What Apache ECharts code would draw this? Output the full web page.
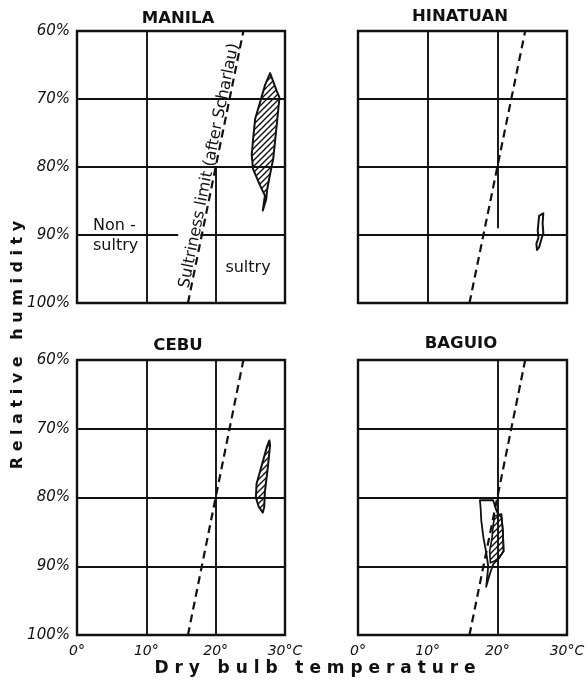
<!DOCTYPE html>
<html><head><meta charset="utf-8">
<script src="https://cdn.jsdelivr.net/npm/echarts@6/dist/echarts.min.js"></script>
<style>html,body{margin:0;padding:0;background:#fff}#c{width:588px;height:688px}</style>
</head><body><div id="c"></div>
<script>
// ---------- data ----------
const stations = ['MANILA', 'HINATUAN', 'CEBU', 'BAGUIO'];
const xTickLabels = ['0°', '10°', '20°', '30°C'];
const yTickLabels = ['60%', '70%', '80%', '90%', '100%'];
// sultriness limit (after Scharlau)
const limitT = [16, 24];
const limitRH = [100, 60];
// monthly climographs (dry bulb °C, relative humidity %)
const manilaT = [27.85, 28.8, 29.2, 28.8, 28.3, 27.8, 27.4, 27.3, 26.8, 27.1, 26.4, 25.4, 25.2, 25.4, 25.7, 26.4, 27.1];
const manilaRH = [66.2, 68.8, 69.8, 73.9, 78.8, 81.3, 83.5, 84.7, 86.4, 84.2, 82.7, 80.3, 78.3, 75.9, 72.9, 70.5, 68.0];
const hinatuanT = [26.0, 26.6, 26.5, 26.6, 26.3, 26.0, 25.7, 25.6, 25.9, 25.8, 25.9];
const hinatuanRH = [87.2, 86.8, 88.3, 89.7, 90.7, 91.8, 92.2, 91.3, 90.4, 89.3, 88.2];
const cebuT = [27.75, 27.85, 27.5, 27.1, 27.0, 26.8, 26.2, 25.8, 25.9, 26.65, 27.4];
const cebuRH = [71.7, 72.4, 75.8, 79.2, 81.4, 82.2, 81.3, 80.0, 78.0, 75.3, 72.6];
const baguioT = [17.5, 19.4, 19.8, 20.0, 20.6, 20.8, 20.9, 20.1, 19.4, 18.9, 18.4, 18.7, 18.4, 18.0, 17.7, 17.6];
const baguioRH = [80.4, 80.4, 81.7, 82.2, 82.9, 84.9, 87.8, 89.0, 89.7, 91.2, 93.0, 90.0, 88.0, 85.8, 83.4, 81.5];
const baguioHatchT = [19.6, 20.6, 20.8, 20.9, 20.1, 19.0, 18.9, 19.25, 19.4];
const baguioHatchRH = [82.7, 82.4, 84.9, 87.8, 89.0, 89.5, 87.8, 85.8, 84.1];

// ---------- layout / style ----------
const INK = '#111';
const grids = [
  {left: 77, top: 31, width: 208, height: 272},
  {left: 358, top: 31, width: 209, height: 272},
  {left: 77, top: 360, width: 208, height: 275},
  {left: 358, top: 360, width: 209, height: 275}
];
// grid line segments per panel [x1,y1,x2,y2] (as printed, some interrupted)
const gridSegs = [
  [[10,60,10,100],[20,80,20,100],[0,70,30,70],[0,80,30,80],[0,90,14.6,90],[17.8,90,30,90]],
  [[10,60,10,100],[20,60,20,89],[0,70,30,70],[0,80,30,80],[0,90,30,90]],
  [[10,60,10,100],[20,60,20,100],[0,70,30,70],[0,80,30,80],[0,90,30,90]],
  [[20,60,20,100],[0,70,30,70],[0,80,30,80],[0,90,30,90]]
];
const polys = [
  [{T: manilaT, RH: manilaRH, hatch: true, lw: 2}],
  [{T: hinatuanT, RH: hinatuanRH, hatch: false, lw: 2}],
  [{T: cebuT, RH: cebuRH, hatch: true, lw: 2}],
  [{T: baguioT, RH: baguioRH, hatch: false, lw: 1.8}, {T: baguioHatchT, RH: baguioHatchRH, hatch: true, lw: 1.6}]
];

const hatchCanvas = (() => {
  const c = document.createElement('canvas'); c.width = 6; c.height = 6;
  const g = c.getContext('2d'); g.strokeStyle = INK; g.lineWidth = 1.4;
  g.beginPath(); g.moveTo(0, 6); g.lineTo(6, 0); g.moveTo(-3, 3); g.lineTo(3, -3); g.moveTo(3, 9); g.lineTo(9, 3); g.stroke();
  return c;
})();
const hatchFill = {image: hatchCanvas, repeat: 'repeat'};

const xAxes = [], yAxes = [], series = [];
grids.forEach((g, i) => {
  xAxes.push({
    gridIndex: i, type: 'value', min: 0, max: 30, interval: 10,
    axisLine: {show: false}, axisTick: {show: false}, splitLine: {show: false},
    axisLabel: {show: i >= 2, formatter: v => xTickLabels[Math.round(v / 10)], fontFamily: 'DejaVu Sans',
      fontStyle: 'italic', fontSize: 14, color: INK, margin: 9}
  });
  yAxes.push({
    gridIndex: i, type: 'value', min: 60, max: 100, interval: 10, inverse: true,
    axisLine: {show: false}, axisTick: {show: false}, splitLine: {show: false},
    axisLabel: {show: i % 2 === 0, formatter: v => yTickLabels[Math.round((v - 60) / 10)], fontFamily: 'DejaVu Sans',
      fontStyle: 'italic', fontSize: 15, color: INK, margin: 7}
  });
  series.push({
    type: 'line', xAxisIndex: i, yAxisIndex: i, z: 3, silent: true,
    data: limitT.map((t, k) => [t, limitRH[k]]), symbol: 'none',
    lineStyle: {color: INK, width: 2.2, type: [8, 5]},
    markLine: {
      silent: true, symbol: ['none', 'none'], label: {show: false},
      lineStyle: {color: INK, width: 1.9, type: 'solid'},
      data: gridSegs[i].map(s => [{coord: [s[0], s[1]]}, {coord: [s[2], s[3]]}])
    }
  });
  polys[i].forEach(p => {
    series.push({
      type: 'custom', xAxisIndex: i, yAxisIndex: i, z: 5, silent: true,
      data: [[p.T[0], p.RH[0]]],
      renderItem: (params, api) => ({
        type: 'polygon',
        shape: {points: p.T.map((t, k) => api.coord([t, p.RH[k]]))},
        style: {fill: p.hatch ? hatchFill : 'none', stroke: INK, lineWidth: p.lw, lineJoin: 'round'}
      })
    });
  });
});

const chart = echarts.init(document.getElementById('c'));
chart.setOption({
  animation: false,
  backgroundColor: '#fff',
  grid: grids.map(g => Object.assign({show: true, borderColor: INK, borderWidth: 2.4, backgroundColor: 'transparent'}, g)),
  xAxis: xAxes, yAxis: yAxes, series: series
});

// annotations
const p1 = chart.convertToPixel({gridIndex: 0}, [limitT[0], limitRH[0]]);
const p2 = chart.convertToPixel({gridIndex: 0}, [limitT[1], limitRH[1]]);
const ang = Math.atan2(p1[1] - p2[1], p2[0] - p1[0]);
const pm = [(p1[0] + p2[0]) / 2, (p1[1] + p2[1]) / 2];
const off = 6.5;
const lab = [pm[0] - Math.sin(ang) * off, pm[1] - Math.cos(ang) * off];

const txt = (x, y, text, font, align, extra) => Object.assign({
  type: 'text', x: x, y: y, silent: true,
  style: {text: text, font: font, fill: INK, textAlign: align || 'center', textVerticalAlign: 'middle'}
}, extra || {});
const titleFont = 'bold 16.5px "DejaVu Sans"';
chart.setOption({
  graphic: [
    txt(178, 19, stations[0], titleFont),
    txt(460, 17, stations[1], titleFont),
    txt(178, 346, stations[2], titleFont),
    txt(461, 344, stations[3], titleFont),
    txt(lab[0], lab[1], 'Sultriness limit (after Scharlau)', '16px "DejaVu Sans"', 'center', {rotation: ang}),
    txt(93, 226, 'Non -', '16px "DejaVu Sans"', 'left'),
    txt(93, 246, 'sultry', '16px "DejaVu Sans"', 'left'),
    txt(248, 268, 'sultry', '16px "DejaVu Sans"', 'center'),
    txt(18, 345, 'R e l a t i v e   h u m i d i t y', 'bold 16px "DejaVu Sans"', 'center', {rotation: Math.PI / 2}),
    txt(315, 669, 'D r y   b u l b   t e m p e r a t u r e', 'bold 17px "DejaVu Sans"', 'center')
  ]
});
</script></body></html>
